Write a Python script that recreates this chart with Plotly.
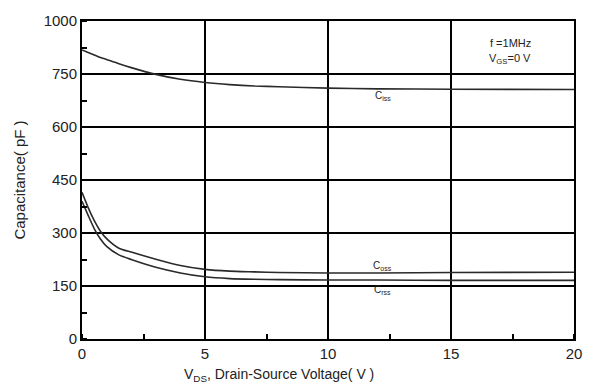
import plotly.graph_objects as go

# Drain-source voltage samples (V)
vds = [0, 0.25, 0.5, 0.75, 1.0, 1.5, 2, 3, 4, 5, 6, 7, 8, 10, 12, 15, 20]
# Capacitances (pF, linear axis units)
ciss = [818, 811, 804, 797, 791, 779, 768, 749, 735, 726, 720, 716, 714, 710, 708, 707, 706]
coss = [415, 372, 335, 305, 284, 257, 246, 226, 208, 197, 192, 190, 188, 187, 187, 188, 189]
crss = [390, 350, 312, 283, 262, 238, 225, 203, 187, 176, 171, 169, 168, 167, 167, 166, 166]

x_ticks = [0, 5, 10, 15, 20]
y_ticks = [0, 150, 300, 450, 600, 750, 900]
y_tick_text = ["0", "150", "300", "450", "600", "750", "1000"]

curve_labels = [
    (12.25, 689, "C<sub>iss</sub>"),
    (12.2, 206, "C<sub>oss</sub>"),
    (12.2, 139, "C<sub>rss</sub>"),
]

FONT = "Liberation Sans, Arial, sans-serif"
INK = "#222"

fig = go.Figure()
for name, vals in (("Ciss", ciss), ("Coss", coss), ("Crss", crss)):
    fig.add_trace(go.Scatter(
        x=vds, y=vals, mode="lines", name=name,
        line=dict(color="#2a2a2a", width=1.6, shape="spline", smoothing=0.6),
        showlegend=False, hoverinfo="skip",
    ))

for x, y, txt in curve_labels:
    fig.add_annotation(x=x, y=y, text=txt, showarrow=False,
                       font=dict(family=FONT, size=10, color=INK))

fig.add_annotation(x=17.4, y=839, text="f =1MHz", showarrow=False,
                   font=dict(family=FONT, size=11, color=INK))
fig.add_annotation(x=17.4, y=792, text="V<sub>GS</sub>=0 V", showarrow=False,
                   font=dict(family=FONT, size=11, color=INK))

fig.add_annotation(xref="paper", yref="paper", x=0.40, y=-0.112,
                   xanchor="center", yanchor="middle",
                   text="V<sub>DS</sub>, Drain-Source Voltage( V )",
                   showarrow=False, font=dict(family=FONT, size=14, color=INK))

fig.update_xaxes(
    range=[0, 20], tickvals=x_ticks, ticks="",
    showgrid=True, gridcolor="black", gridwidth=2,
    showline=True, linecolor="black", linewidth=2, mirror=True,
    zeroline=False,
    minor=dict(ticks="inside", dtick=2.5, tick0=0, ticklen=5,
               tickcolor="black", tickwidth=2, showgrid=False),
    tickfont=dict(family=FONT, size=15, color=INK),
)
fig.update_yaxes(
    range=[0, 900], tickvals=y_ticks, ticktext=y_tick_text, ticks="",
    showgrid=True, gridcolor="black", gridwidth=2,
    showline=True, linecolor="black", linewidth=2, mirror=True,
    zeroline=False,
    minor=dict(ticks="inside", dtick=75, tick0=0, ticklen=5,
               tickcolor="black", tickwidth=2, showgrid=False),
    tickfont=dict(family=FONT, size=15, color=INK),
    title=dict(text="Capacitance( pF )", standoff=14,
               font=dict(family=FONT, size=15, color=INK)),
)

fig.update_layout(
    width=594, height=387,
    margin=dict(l=82, r=20, t=15, b=48),
    paper_bgcolor="white", plot_bgcolor="white",
)

fig.write_html("out.html")
